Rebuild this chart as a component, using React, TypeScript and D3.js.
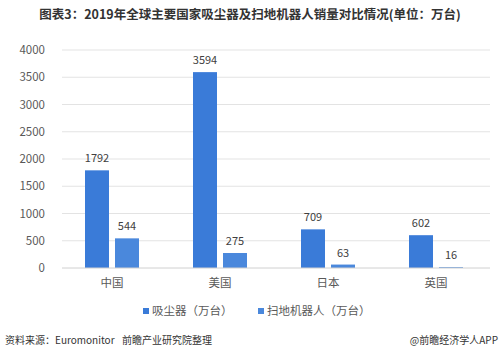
import React, { useEffect, useRef } from "react";
import * as d3 from "d3";

const categories = ["中国", "美国", "日本", "英国"];
const vacuumValues = [1792, 3594, 709, 602];
const robotValues = [544, 275, 63, 16];
const seriesNames = ["吸尘器（万台）", "扫地机器人（万台）"];
const yTicks = [0, 500, 1000, 1500, 2000, 2500, 3000, 3500, 4000];

const W = 500;
const H = 360;
const FONT = "'Noto Sans CJK SC', 'Noto Sans', sans-serif";

const App = () => {
  const ref = useRef<SVGSVGElement>(null);

  useEffect(() => {
    const svg = d3.select(ref.current);
    svg.selectAll("*").remove();

    const margin = { left: 58, right: 10, top: 50, bottom: 92 };
    const baseY = H - margin.bottom;

    const x = d3.scaleBand().domain(categories).range([margin.left, W - margin.right]);
    const inner = d3.scaleBand().domain(["v", "r"]).range([0, 54]).paddingInner(0.2);
    const y = d3.scaleLinear().domain([0, 4000]).range([baseY, margin.top]);

    svg.append("rect").attr("width", W).attr("height", H).attr("fill", "#ffffff");

    // title
    svg.append("text")
      .attr("x", W / 2).attr("y", 19)
      .attr("text-anchor", "middle")
      .style("font-family", FONT).style("font-size", "12.5px").style("font-weight", "bold")
      .attr("fill", "#333")
      .text("图表3：2019年全球主要国家吸尘器及扫地机器人销量对比情况(单位：万台)");

    // grid lines
    svg.selectAll(".grid").data(yTicks.filter(d => d > 0)).enter().append("line")
      .attr("x1", margin.left + 4).attr("x2", W - margin.right)
      .attr("y1", d => y(d)).attr("y2", d => y(d))
      .attr("stroke", "#e3e3e3").attr("stroke-width", 1);

    // y labels
    svg.selectAll(".ylab").data(yTicks).enter().append("text")
      .attr("x", 45).attr("y", d => y(d) + 4)
      .attr("text-anchor", "end")
      .style("font-family", FONT).style("font-size", "11.5px")
      .attr("fill", "#595959")
      .text(d => d);

    const groupOffset = (c: string) => (x(c) as number) + (x.bandwidth() - 54) / 2;

    const drawSeries = (vals: number[], key: string, color: string) => {
      svg.selectAll(".bar-" + key).data(vals).enter().append("rect")
        .attr("x", (_, i) => groupOffset(categories[i]) + (inner(key) as number))
        .attr("y", d => y(d))
        .attr("width", inner.bandwidth())
        .attr("height", d => baseY - y(d))
        .attr("fill", color);
      svg.selectAll(".lab-" + key).data(vals).enter().append("text")
        .attr("x", (_, i) => groupOffset(categories[i]) + (inner(key) as number) + inner.bandwidth() / 2)
        .attr("y", d => y(d) - 8)
        .attr("text-anchor", "middle")
        .style("font-family", FONT).style("font-size", "11px")
        .attr("fill", "#404040")
        .text(d => d);
    };
    drawSeries(vacuumValues, "v", "#3a7bd8");
    drawSeries(robotValues, "r", "#4a88dc");

    // baseline
    svg.append("line")
      .attr("x1", margin.left + 4).attr("x2", W - margin.right)
      .attr("y1", baseY).attr("y2", baseY)
      .attr("stroke", "#d0d0d0");

    // category labels
    svg.selectAll(".xlab").data(categories).enter().append("text")
      .attr("x", d => (x(d) as number) + x.bandwidth() / 2)
      .attr("y", baseY + 19)
      .attr("text-anchor", "middle")
      .style("font-family", FONT).style("font-size", "11.5px")
      .attr("fill", "#595959")
      .text(d => d);

    // legend
    const legendX = [143, 258];
    seriesNames.forEach((name, i) => {
      svg.append("rect").attr("x", legendX[i]).attr("y", 308).attr("width", 6).attr("height", 6)
        .attr("fill", i === 0 ? "#3a7bd8" : "#4a88dc");
      svg.append("text").attr("x", legendX[i] + 9).attr("y", 315)
        .style("font-family", FONT).style("font-size", "11.5px")
        .attr("fill", "#595959")
        .text(name);
    });

    // footer
    svg.append("text").attr("x", 5).attr("y", 344)
      .style("font-family", FONT).style("font-size", "10px")
      .attr("fill", "#333")
      .text("资料来源：Euromonitor");
    svg.append("text").attr("x", 122).attr("y", 344)
      .style("font-family", FONT).style("font-size", "10px")
      .attr("fill", "#333")
      .text("前瞻产业研究院整理");
    svg.append("text").attr("x", 498).attr("y", 344)
      .attr("text-anchor", "end")
      .style("font-family", FONT).style("font-size", "10px")
      .attr("fill", "#333")
      .text("@前瞻经济学人APP");
  }, []);

  return (
    <svg ref={ref} width={W} height={H}
      style={{ position: "absolute", left: 0, top: 0, display: "block" }} />
  );
};

export default App;
